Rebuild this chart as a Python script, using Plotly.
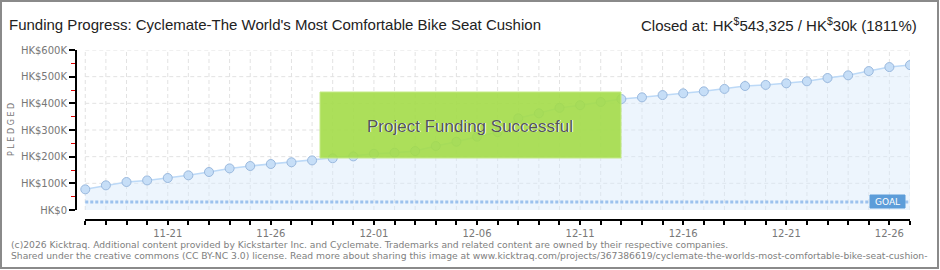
import pandas as pd
import plotly.graph_objects as go

# ---- data ----
start_date = "2025-11-17"
n_days = 41
dates = pd.date_range(start_date, periods=n_days, freq="D")
pledged = [77500, 92500, 105000, 111000, 120000, 130000, 142500, 156000, 165000, 172500, 179000, 186000,
           194000, 201000, 211000, 215000, 221000, 240000, 256000, 275000, 292000, 344000, 362500, 383000,
           393000, 405000, 416000,
           422500, 431000, 437500, 445000, 454000, 465000, 469000, 475000, 482500, 495000, 505000, 521000,
           536000, 543325]
goal = 30000
y_ticks = [0, 100000, 200000, 300000, 400000, 500000, 600000]
y_ticktext = ["HK$0", "HK$100K", "HK$200K", "HK$300K", "HK$400K", "HK$500K", "HK$600K"]
x_label_dates = ["2025-11-21", "2025-11-26", "2025-12-01", "2025-12-06", "2025-12-11",
                 "2025-12-16", "2025-12-21", "2025-12-26"]
x_label_text = ["11-21", "11-26", "12-01", "12-06", "12-11", "12-16", "12-21", "12-26"]

title_text = "Funding Progress: Cyclemate-The World's Most Comfortable Bike Seat Cushion"
closed_text = "Closed at: HK<sup>$</sup>543,325 / HK<sup>$</sup>30k (1811%)"
footer1 = ("(c)2026 Kicktraq. Additional content provided by Kickstarter Inc. and Cyclemate. "
           "Trademarks and related content are owned by their respective companies.")
footer2 = ("Shared under the creative commons (CC BY-NC 3.0) license. Read more about sharing this image at "
           "www.kicktraq.com/projects/367386619/cyclemate-the-worlds-most-comfortable-bike-seat-cushion-")

# ---- layout geometry (pixels) ----
W, H = 940, 270
L, R, T, B = 76, 910, 50, 220


def px(x):
    return (x - L) / (R - L)


def py(y):
    return (B - y) / (B - T)


x_start = dates[0] - pd.Timedelta(hours=10.8)
x_end = dates[-1]

fig = go.Figure()

fig.add_trace(go.Scatter(
    x=dates, y=pledged, mode="lines+markers",
    line=dict(color="#bcd9f7", width=1.5),
    marker=dict(size=9, color="#c6def7", line=dict(color="#9ab9de", width=1)),
    fill="tozeroy", fillcolor="rgba(214,232,250,0.45)",
    hoverinfo="skip", showlegend=False,
))

# goal line
fig.add_trace(go.Scatter(
    x=[dates[0], dates[-1]], y=[goal, goal], mode="lines",
    line=dict(color="#9cc2ee", width=3, dash="3px,2px"),
    hoverinfo="skip", showlegend=False,
))

shapes = []
# grid lines
for d in dates:
    shapes.append(dict(type="line", xref="x", yref="y", x0=d, x1=d, y0=0, y1=y_ticks[-1],
                       line=dict(color="#e2e2e2", width=1, dash="4px,3px"), layer="below"))
for v in y_ticks[1:]:
    shapes.append(dict(type="line", xref="x", yref="y", x0=dates[0], x1=dates[-1], y0=v, y1=v,
                       line=dict(color="#e2e2e2", width=1, dash="4px,3px"), layer="below"))
# axis lines
shapes.append(dict(type="line", xref="paper", yref="paper", x0=px(L), x1=px(L), y0=py(210), y1=py(T),
                   line=dict(color="#000", width=2)))
shapes.append(dict(type="line", xref="paper", yref="paper", x0=px(85), x1=px(R), y0=py(B), y1=py(B),
                   line=dict(color="#000", width=2)))
# success box
shapes.append(dict(type="rect", xref="paper", yref="paper", x0=px(320), x1=px(621), y0=py(158), y1=py(92),
                   fillcolor="rgba(163,219,72,0.9)", line=dict(color="#c4ea86", width=1), layer="above"))
# goal label
shapes.append(dict(type="rect", xref="paper", yref="paper", x0=px(870), x1=px(905), y0=py(208), y1=py(195),
                   fillcolor="#5d9dd9", line=dict(color="#5d9dd9", width=1), layer="above"))
# frame
shapes.append(dict(type="rect", xref="paper", yref="paper", x0=px(1), x1=px(938), y0=py(268), y1=py(1),
                   line=dict(color="#8a8a8a", width=2)))

annotations = [
    dict(text=title_text, x=px(7), y=py(24), xref="paper", yref="paper", xanchor="left", yanchor="middle",
         showarrow=False, font=dict(family="Liberation Sans", size=15, color="#222")),
    dict(text=closed_text, x=px(919), y=py(24), xref="paper", yref="paper", xanchor="right", yanchor="middle",
         showarrow=False, font=dict(family="Liberation Sans", size=15, color="#222")),
    dict(text="P L E D G E D", x=px(11), y=py(130), xref="paper", yref="paper", xanchor="center",
         yanchor="middle", textangle=-90, showarrow=False,
         font=dict(family="DejaVu Sans", size=8, color="#777")),
    dict(text="Project Funding Successful", x=px(471), y=py(127), xref="paper", yref="paper",
         xanchor="center", yanchor="middle", showarrow=False,
         font=dict(family="Liberation Sans", size=17, color="#ffffff")),
    dict(text="Project Funding Successful", x=px(470), y=py(126), xref="paper", yref="paper",
         xanchor="center", yanchor="middle", showarrow=False,
         font=dict(family="Liberation Sans", size=17, color="#555555")),
    dict(text="GOAL", x=px(887), y=py(201.5), xref="paper", yref="paper", xanchor="center", yanchor="middle",
         showarrow=False, font=dict(family="DejaVu Sans", size=9, color="#ffffff")),
    dict(text=footer1, x=px(9), y=py(244), xref="paper", yref="paper", xanchor="left", yanchor="middle",
         showarrow=False, font=dict(family="DejaVu Sans", size=9.2, color="#808080")),
    dict(text=footer2, x=px(9), y=py(256), xref="paper", yref="paper", xanchor="left", yanchor="middle",
         showarrow=False, font=dict(family="DejaVu Sans", size=9.2, color="#808080")),
]

fig.update_layout(
    width=W, height=H,
    margin=dict(l=L, r=W - R, t=T, b=H - B, pad=0),
    paper_bgcolor="white", plot_bgcolor="white",
    shapes=shapes, annotations=annotations,
    xaxis=dict(range=[x_start, x_end], showgrid=False, zeroline=False, showline=False,
               tickvals=pd.to_datetime(x_label_dates), ticktext=x_label_text,
               ticks="outside", ticklen=4, tickwidth=1.5, tickcolor="#000",
               minor=dict(ticks="outside", ticklen=4, tickwidth=1.5, tickcolor="#000",
                          dtick=86400000, tick0=start_date),
               tickfont=dict(family="DejaVu Sans", size=10, color="#777")),
    yaxis=dict(range=[-37500, 600000], showgrid=False, zeroline=False, showline=False,
               tickvals=y_ticks, ticktext=y_ticktext,
               ticks="outside", ticklen=6, tickwidth=1.5, tickcolor="#000",
               minor=dict(ticks="outside", ticklen=4, tickwidth=1, tickcolor="#e00000", dtick=50000, tick0=0),
               tickfont=dict(family="DejaVu Sans", size=10, color="#777")),
)

fig.write_html("out.html")
